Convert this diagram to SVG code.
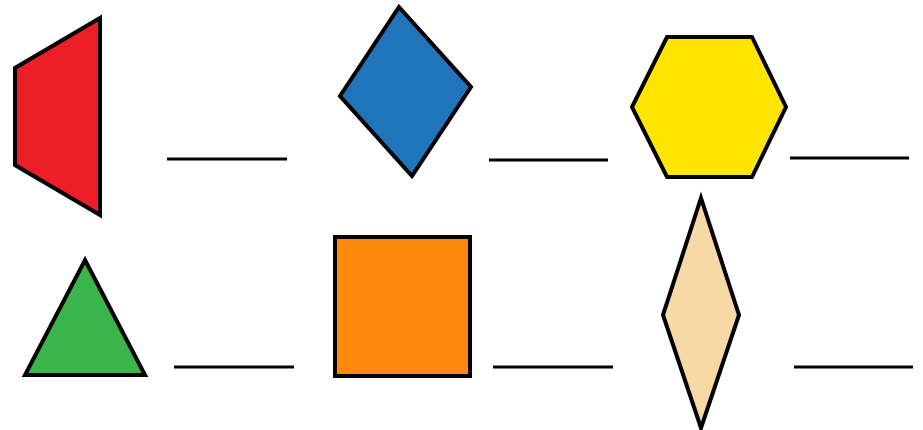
<svg xmlns="http://www.w3.org/2000/svg" width="923" height="430" viewBox="0 0 923 430">
<style>
.s{stroke:#000;stroke-width:4;stroke-linejoin:miter}
.blank{stroke:#000;stroke-width:3;fill:none}
</style>
<rect width="923" height="430" fill="#fff"/>
<g id="trapezoid"><polygon class="s" fill="#ED1E26" points="100,18 100,215 15,165 15,68"/></g>
<g id="rhombus"><polygon class="s" fill="#1F74BA" points="399,7 471,87 412,176 340,96"/></g>
<g id="hexagon"><polygon class="s" fill="#FFE501" points="667,37 752,37 786,107 752,177 667,177 632,107"/></g>
<g id="triangle"><polygon class="s" fill="#3BB54B" points="85,260 145,375 25,375"/></g>
<g id="square"><rect class="s" fill="#FF880F" x="335" y="237" width="135" height="139"/></g>
<g id="thin-rhombus"><polygon class="s" fill="#F6D9A5" points="701,198 739,315 701,428 663,315"/></g>
<g id="blanks">
<line class="blank" x1="167" y1="159" x2="287" y2="159"/>
<line class="blank" x1="489" y1="160" x2="608" y2="160"/>
<line class="blank" x1="790" y1="158" x2="909" y2="158"/>
<line class="blank" x1="174" y1="367" x2="294" y2="367"/>
<line class="blank" x1="493" y1="367" x2="613" y2="367"/>
<line class="blank" x1="794" y1="367" x2="913" y2="367"/>
</g>
</svg>
